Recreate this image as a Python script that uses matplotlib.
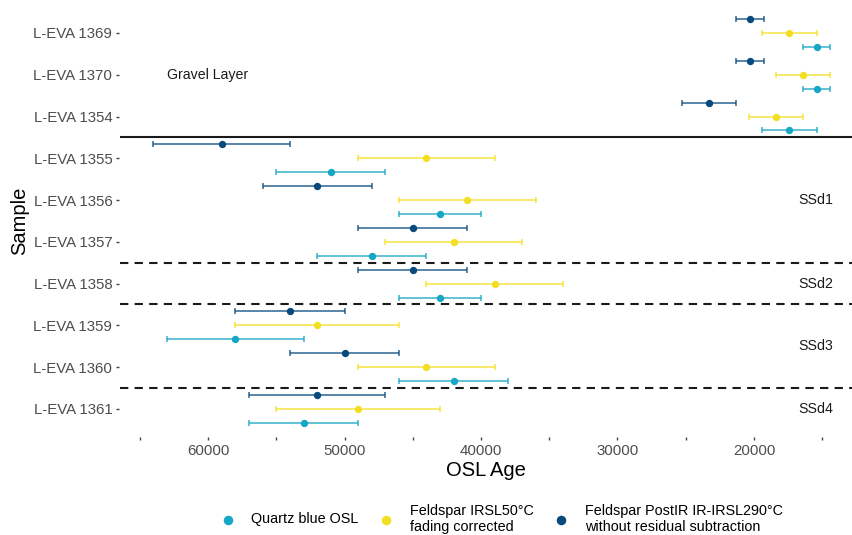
import numpy as np
import matplotlib
matplotlib.use("Agg")
import matplotlib.pyplot as plt
from matplotlib.ticker import FixedLocator, NullFormatter

plt.rcParams['font.family'] = ['Liberation Sans', 'DejaVu Sans']

# samples from top to bottom
samples = ['L-EVA 1369', 'L-EVA 1370', 'L-EVA 1354', 'L-EVA 1355', 'L-EVA 1356',
           'L-EVA 1357', 'L-EVA 1358', 'L-EVA 1359', 'L-EVA 1360', 'L-EVA 1361']

# ages and 1-sigma errors (years)
quartz_age = [15400, 15400, 17400, 51000, 43000, 48000, 43000, 58000, 42000, 53000]
quartz_err = [1000, 1000, 2000, 4000, 3000, 4000, 3000, 5000, 4000, 4000]
irsl50_age = [17400, 16400, 18400, 44000, 41000, 42000, 39000, 52000, 44000, 49000]
irsl50_err = [2000, 2000, 2000, 5000, 5000, 5000, 5000, 6000, 5000, 6000]
pirir_age = [20300, 20300, 23300, 59000, 52000, 45000, 45000, 54000, 50000, 52000]
pirir_err = [1000, 1000, 2000, 5000, 4000, 4000, 4000, 4000, 4000, 5000]

series = [
    ('Quartz blue OSL', quartz_age, quartz_err, '#16a6c6', -1/3),
    ('Feldspar IRSL50°C\nfading corrected', irsl50_age, irsl50_err, '#f3df22', 0.0),
    ('Feldspar PostIR IR-IRSL290°C\nwithout residual subtraction', pirir_age, pirir_err, '#084a7c', 1/3),
]

# unit boundaries (between sample rows) and unit labels
solid_after = 'L-EVA 1354'
dashed_after = ['L-EVA 1357', 'L-EVA 1358', 'L-EVA 1360']
units = [('SSd1', 'L-EVA 1356', 0.0), ('SSd2', 'L-EVA 1358', 0.0),
         ('SSd3', 'L-EVA 1360', 0.5), ('SSd4', 'L-EVA 1361', 0.0)]

n = len(samples)
ypos = {s: n - 1 - i for i, s in enumerate(samples)}

fig = plt.figure(figsize=(8.52, 5.35), dpi=100)
ax = fig.add_axes([0.1408, 0.1888, 0.8592, 0.7964])

handles = []
for label, age, err, color, off in series:
    y = np.arange(n)[::-1] + off
    ax.errorbar(age, y, xerr=err, fmt='none', ecolor=color, elinewidth=1.1,
                capsize=2.3, capthick=1.1, alpha=0.85, zorder=2)
    h = ax.scatter(age, y, s=28, color=color, zorder=3, label=label, linewidths=0)
    handles.append(h)

ax.axhline(ypos[solid_after] - 0.5, color='#1a1a1a', lw=1.5)
for s in dashed_after:
    ax.axhline(ypos[s] - 0.5, color='#1a1a1a', lw=1.5, ls=(0, (4, 3)))

ax.text(60000, ypos['L-EVA 1370'], 'Gravel Layer', ha='center', va='center',
        fontsize=10.2, color='#1a1a1a')
for name, s, shift in units:
    ax.text(15450, ypos[s] + shift, name, ha='center', va='center',
            fontsize=10.2, color='#1a1a1a')

ax.set_xlim(66450, 12820)
ax.set_ylim(-0.6, n - 1 + 0.6)

ax.set_xticks([60000, 50000, 40000, 30000, 20000])
ax.set_xticklabels(['60000', '50000', '40000', '30000', '20000'])
ax.xaxis.set_minor_locator(FixedLocator([65000, 55000, 45000, 35000, 25000, 15000]))
ax.xaxis.set_minor_formatter(NullFormatter())
ax.set_yticks(range(n))
ax.set_yticklabels(samples[::-1])

for sp in ax.spines.values():
    sp.set_visible(False)
ax.spines['bottom'].set_position(('outward', 2))
ax.spines['left'].set_position(('outward', 1))
ax.tick_params(axis='x', which='both', length=2.5, width=1.0, color='#444444',
               pad=3, labelsize=10.8, labelcolor='#4d4d4d')
ax.tick_params(axis='y', length=2.5, width=1.0, color='#444444', pad=2,
               labelsize=10.8, labelcolor='#4d4d4d')

ax.set_xlabel('OSL Age', fontsize=14.5, labelpad=2)
ax.set_ylabel('Sample', fontsize=14.5, labelpad=3)

leg = fig.legend(handles=handles, loc='center', bbox_to_anchor=(501 / 852, 1 - 519 / 535),
                 ncol=3, frameon=False, fontsize=10.4, handletextpad=1.0,
                 handlelength=1.2, columnspacing=1.34, markerscale=1.3, labelspacing=0)
# centre each marker on its (possibly two-line) label
leg._legend_handle_box.align = 'center'
for col in leg._legend_handle_box.get_children():
    col.align = 'center'
    for row in col.get_children():
        row.align = 'center'
        for item in row.get_children():
            if hasattr(item, '_multilinebaseline'):
                item._multilinebaseline = True

fig.savefig('out.png', dpi=100)
